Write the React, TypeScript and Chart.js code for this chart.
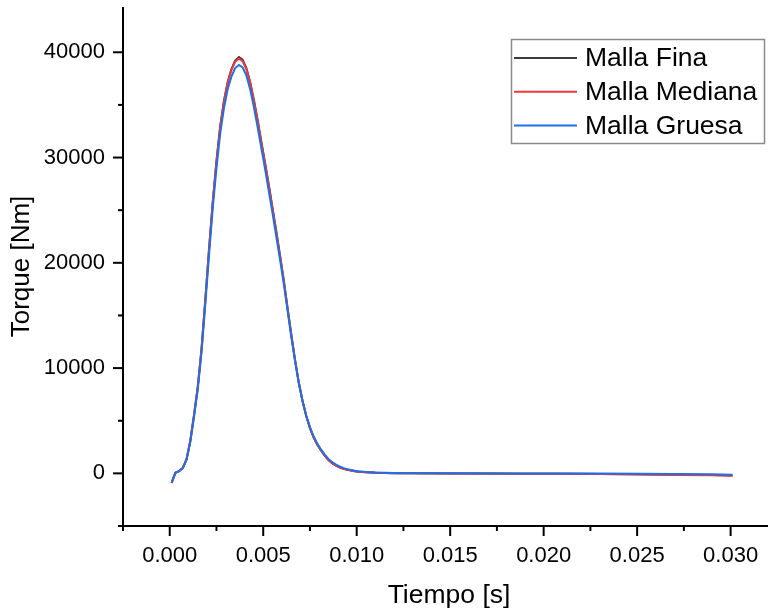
import React, { useEffect, useRef } from "react";
import { Chart, registerables } from "chart.js";

Chart.register(...registerables);

const times = [
  0.0001, 0.0003, 0.0005, 0.0007, 0.0009, 0.0011, 0.0013, 0.0015, 0.0017, 0.0019,
  0.0021, 0.0023, 0.0025, 0.0027, 0.0029, 0.0031, 0.0033, 0.0035, 0.0037, 0.0039,
  0.0041, 0.0043, 0.0045, 0.0047, 0.0049, 0.0051, 0.0053, 0.0055, 0.0057, 0.0059,
  0.0061, 0.0063, 0.0065, 0.0067, 0.0069, 0.0071, 0.0073, 0.0075, 0.0077, 0.0079,
  0.0081, 0.0083, 0.0085, 0.0087, 0.0089, 0.0091, 0.0093, 0.0095, 0.0097, 0.0099,
  0.0101, 0.0105, 0.011, 0.0115, 0.012, 0.013, 0.015, 0.017, 0.019, 0.021,
  0.023, 0.025, 0.027, 0.029, 0.0301,
];

const mallaFina = [
  -900, 50, 200, 520, 1350, 3100, 5550, 8250, 11850, 16450,
  21300, 25800, 29700, 33000, 35400, 37200, 38400, 39200, 39550, 39300,
  38500, 37200, 35500, 33600, 31500, 29500, 27400, 25200, 23000, 20700,
  18350, 15750, 13200, 10800, 8650, 6900, 5450, 4300, 3400, 2700,
  2150, 1650, 1250, 950, 730, 560, 430, 340, 270, 210,
  160, 100, 60, 40, 20, 0, -10, -20, -30, -40,
  -50, -80, -120, -160, -200,
];

const mallaMediana = [
  -900, 50, 200, 520, 1350, 3100, 5550, 8200, 11800, 16400,
  21200, 25700, 29600, 32900, 35300, 37100, 38300, 39100, 39400, 39150,
  38400, 37100, 35400, 33500, 31400, 29400, 27300, 25100, 22900, 20600,
  18300, 15700, 13200, 10800, 8650, 6900, 5450, 4300, 3400, 2700,
  2150, 1650, 1250, 950, 730, 560, 430, 340, 270, 210,
  160, 100, 60, 40, 20, 0, -10, -20, -30, -40,
  -60, -100, -150, -190, -220,
];

const mallaGruesa = [
  -900, 50, 200, 500, 1300, 3000, 5400, 8000, 11500, 16000,
  20700, 25200, 29000, 32300, 34700, 36500, 37700, 38500, 38800, 38550,
  37800, 36500, 34800, 32900, 30900, 28900, 26800, 24700, 22500, 20300,
  18000, 15500, 13000, 10700, 8600, 6900, 5500, 4400, 3500, 2800,
  2250, 1750, 1350, 1050, 830, 650, 500, 400, 320, 250,
  190, 120, 80, 50, 30, 10, 0, -10, -10, -20,
  -20, -30, -60, -90, -120,
];

const seriesLabels = ["Malla Fina", "Malla Mediana", "Malla Gruesa"];
const seriesColors = ["#3a3a3a", "#f03a3a", "#1f6fe6"];

// tick positions (major ticks carry labels, minor ticks do not)
const xMajorTicks = [0.0, 0.005, 0.01, 0.015, 0.02, 0.025, 0.03];
const xMinorTicks = [-0.0025, 0.0025, 0.0075, 0.0125, 0.0175, 0.0225, 0.0275];
const xTickLabels = ["0.000", "0.005", "0.010", "0.015", "0.020", "0.025", "0.030"];
const yMajorTicks = [0, 10000, 20000, 30000, 40000];
const yMinorTicks = [-5000, 5000, 15000, 25000, 35000];
const yTickLabels = ["0", "10000", "20000", "30000", "40000"];

const xTitle = "Tiempo [s]";
const yTitle = "Torque [Nm]";

const FONT = "'Liberation Sans', Arial, sans-serif";

const toPts = (vals: number[]) => vals.map((v, i) => ({ x: times[i], y: v }));

const axesPlugin = {
  id: "originAxes",
  afterDraw(chart: any) {
    const ctx = chart.ctx;
    const xs = chart.scales.x;
    const ys = chart.scales.y;
    const area = chart.chartArea;
    ctx.save();
    ctx.strokeStyle = "#000";
    ctx.lineWidth = 2;
    ctx.lineCap = "butt";
    ctx.beginPath();
    ctx.moveTo(area.left, area.top);
    ctx.lineTo(area.left, area.bottom);
    ctx.lineTo(area.right, area.bottom);
    ctx.stroke();
    const xt = (v: number, len: number) => {
      const px = xs.getPixelForValue(v);
      ctx.beginPath();
      ctx.moveTo(px, area.bottom);
      ctx.lineTo(px, area.bottom + len);
      ctx.stroke();
    };
    const yt = (v: number, len: number) => {
      const py = ys.getPixelForValue(v);
      ctx.beginPath();
      ctx.moveTo(area.left, py);
      ctx.lineTo(area.left - len, py);
      ctx.stroke();
    };
    xMajorTicks.forEach((v) => xt(v, 10));
    xMinorTicks.forEach((v) => xt(v, 5));
    yMajorTicks.forEach((v) => yt(v, 10));
    yMinorTicks.forEach((v) => yt(v, 5));
    // x axis title
    ctx.fillStyle = "#000";
    ctx.font = `26.5px ${FONT}`;
    ctx.textAlign = "center";
    ctx.textBaseline = "alphabetic";
    ctx.fillText(xTitle, 449, 603);
    // legend
    const lx = 511, ly = 39, lw = 253, lh = 104;
    ctx.lineWidth = 1.5;
    ctx.strokeStyle = "#8a8a8a";
    ctx.strokeRect(lx + 0.5, ly + 0.5, lw, lh);
    ctx.font = `26.5px ${FONT}`;
    ctx.textAlign = "left";
    ctx.textBaseline = "middle";
    chart.data.datasets.forEach((ds: any, i: number) => {
      const ry = 58 + i * 33.8;
      ctx.strokeStyle = ds.borderColor;
      ctx.lineWidth = 2;
      ctx.beginPath();
      ctx.moveTo(514, ry);
      ctx.lineTo(577, ry);
      ctx.stroke();
      ctx.fillText(ds.label, 585, ry + 1);
    });
    ctx.restore();
  },
};

export default function App() {
  const ref = useRef<HTMLCanvasElement>(null);
  useEffect(() => {
    if (!ref.current) return;
    const series = [mallaFina, mallaMediana, mallaGruesa];
    const chart = new Chart(ref.current, {
      type: "line",
      data: {
        datasets: series.map((s, i) => ({
          label: seriesLabels[i],
          data: toPts(s),
          borderColor: seriesColors[i],
          backgroundColor: seriesColors[i],
          borderWidth: 2,
          pointRadius: 0,
          tension: 0,
          fill: false,
          order: 3 - i,
        })),
      },
      options: {
        responsive: false,
        animation: false,
        layout: { padding: { left: 0, top: 7, right: 2, bottom: 0 } },
        plugins: { legend: { display: false }, tooltip: { enabled: false } },
        scales: {
          x: {
            type: "linear",
            min: -0.0025,
            max: 0.032,
            grid: { display: false, drawTicks: false },
            border: { display: false },
            afterBuildTicks: (s: any) => {
              s.ticks = xMajorTicks.map((v) => ({ value: v }));
            },
            afterFit: (s: any) => {
              s.height = 86;
              s.paddingLeft = 0;
              s.paddingRight = 0;
              s.paddingTop = 0;
              s.paddingBottom = 0;
            },
            ticks: {
              autoSkip: false,
              maxRotation: 0,
              minRotation: 0,
              padding: 17,
              color: "#000",
              font: { family: FONT, size: 22 },
              callback: (_v: any, i: number) => xTickLabels[i] ?? "",
            },
            title: { display: false },
          },
          y: {
            type: "linear",
            min: -5000,
            max: 44300,
            grid: { display: false, drawTicks: false },
            border: { display: false },
            afterBuildTicks: (s: any) => {
              s.ticks = yMajorTicks.map((v) => ({ value: v }));
            },
            afterFit: (s: any) => {
              s.width = 123;
              s.paddingLeft = 0;
              s.paddingRight = 0;
              s.paddingTop = 0;
              s.paddingBottom = 0;
            },
            ticks: {
              autoSkip: false,
              padding: 18,
              color: "#000",
              font: { family: FONT, size: 22 },
              callback: (_v: any, i: number) => yTickLabels[i] ?? "",
            },
            title: {
              display: true,
              text: yTitle,
              color: "#000",
              font: { family: FONT, size: 26, lineHeight: 1 },
              padding: { top: 9, bottom: 0 },
            },
          },
        },
      },
      plugins: [axesPlugin],
    });
    return () => chart.destroy();
  }, []);
  return (
    <div style={{ position: "fixed", left: 0, top: 0, width: 770, height: 612, background: "#fff" }}>
      <canvas ref={ref} width={770} height={612} />
    </div>
  );
}
